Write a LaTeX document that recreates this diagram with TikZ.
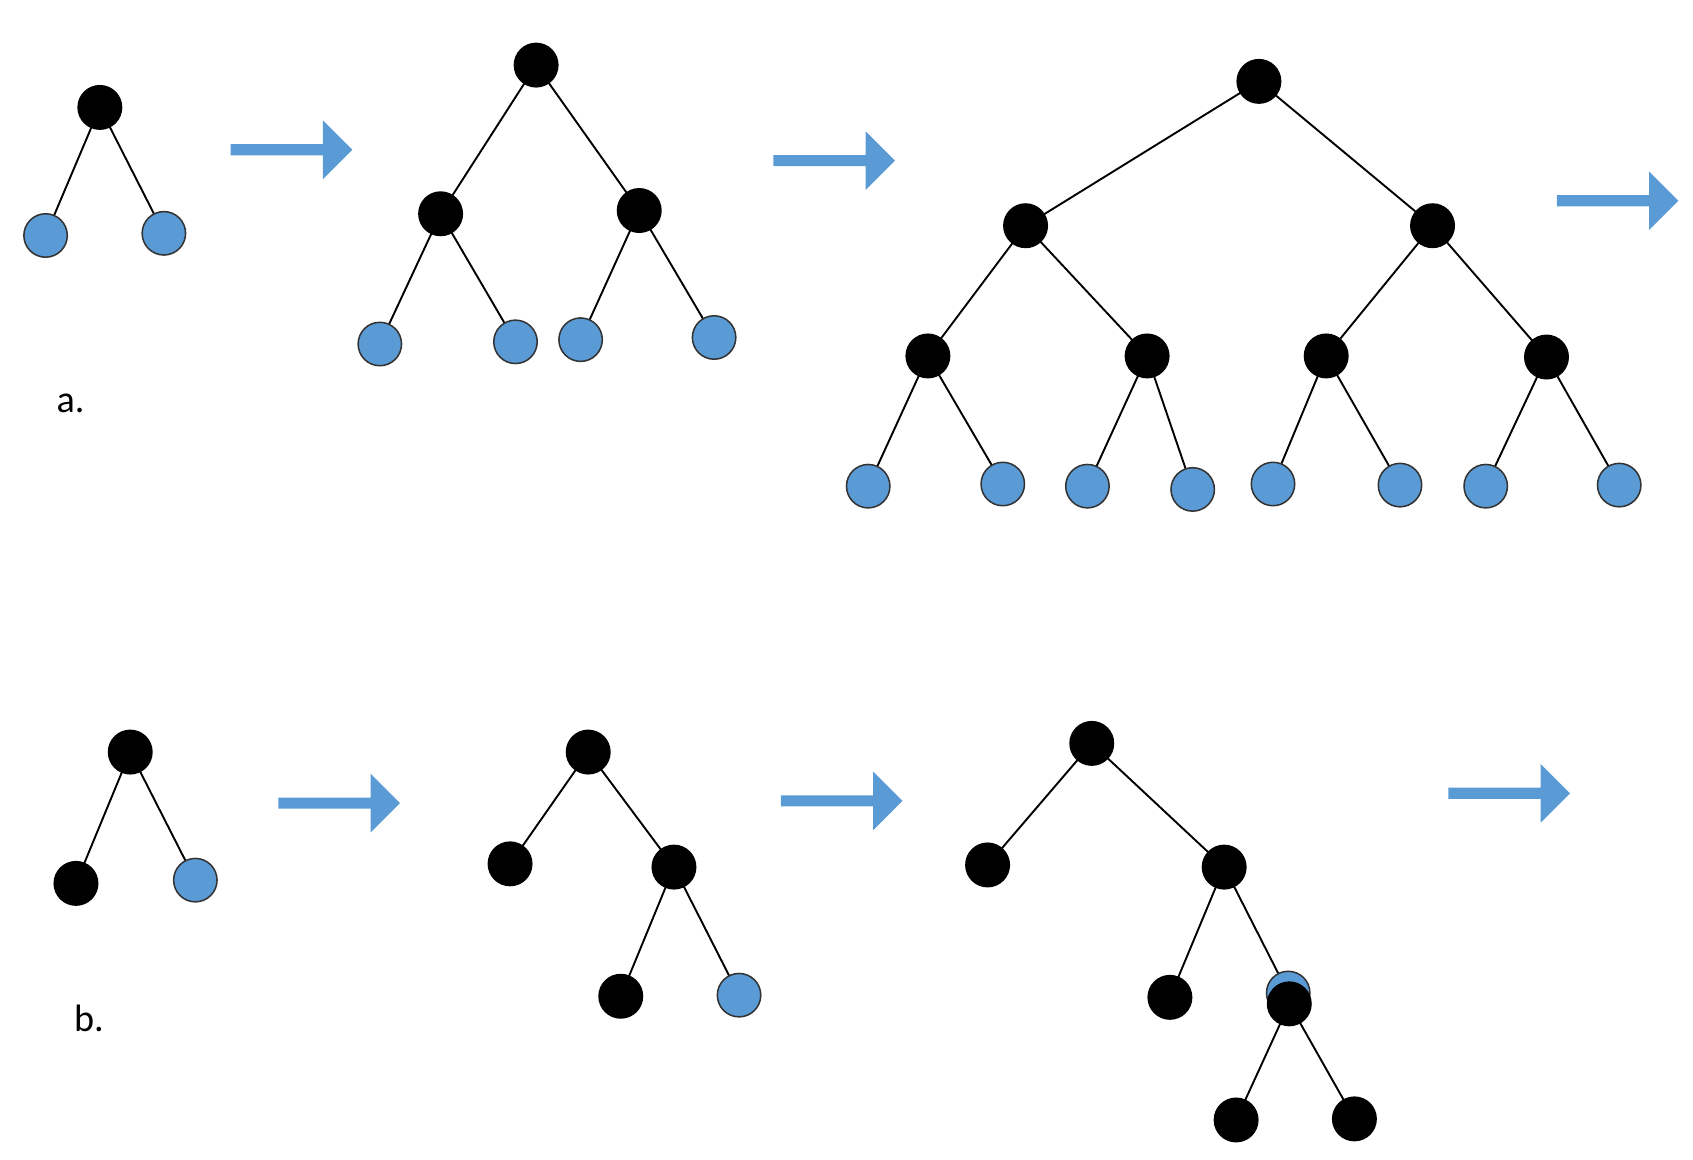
\documentclass[tikz,border=0pt]{standalone}
\usepackage{fontspec}
\setmainfont{Carlito}
\usetikzlibrary{backgrounds,shapes.arrows}
\begin{document}
\begin{tikzpicture}[x=0.01cm,y=-0.01cm,
 bk/.style={circle,fill=black,draw=black,minimum size=0.4cm,inner sep=0pt},
 bl/.style={circle,fill=blue0,draw=black!80,line width=0.4pt,minimum size=0.4cm,inner sep=0pt},
 ar/.style={single arrow,fill=blue0,draw=none,minimum height=1.12cm,minimum width=0.54cm,single arrow head extend=0.03cm,inner sep=0pt,single arrow tip angle=90},
 ed/.style={line width=0.5pt}]
\definecolor{blue0}{HTML}{5B9BD5}
\useasboundingbox (0,0) rectangle (1560,1068);
% a
\node[bk] (a1) at (92,99) {};
\node[bl] (a2) at (42,217) {};
\node[bl] (a3) at (151,215) {};
\node (la) at (65,372) {a.};
\node[ar] (ar1) at (266,138) {};
\node[bk] (b1) at (494,60) {};
\node[bk] (b2) at (406,197) {};
\node[bk] (b3) at (589,194) {};
\node[bl] (b4) at (350,317) {};
\node[bl] (b5) at (475,315) {};
\node[bl] (b6) at (535,313) {};
\node[bl] (b7) at (658,311) {};
\node[ar] (ar2) at (766,148) {};
\node[bk] (c1) at (1160,75) {};
\node[bk] (c2) at (945,208) {};
\node[bk] (c3) at (1320,208) {};
\node[bk] (c4) at (855,328) {};
\node[bk] (c5) at (1057,328) {};
\node[bk] (c6) at (1222,328) {};
\node[bk] (c7) at (1425,329) {};
\node[bl] (c8) at (800,448) {};
\node[bl] (c9) at (924,446) {};
\node[bl] (c10) at (1002,448) {};
\node[bl] (c11) at (1099,451) {};
\node[bl] (c12) at (1173,446) {};
\node[bl] (c13) at (1290,447) {};
\node[bl] (c14) at (1369,448) {};
\node[bl] (c15) at (1492,447) {};
\node[ar] (ar3) at (1488,185) {};
% b
\node[bk] (d1) at (120,693) {};
\node[bk] (d2) at (70,814) {};
\node[bl] (d3) at (180,811) {};
\node (lb) at (82,938) {b.};
\node[ar] (ar4) at (310,740) {};
\node[bk] (e1) at (542,693) {};
\node[bk] (e2) at (470,796) {};
\node[bk] (e3) at (621,799) {};
\node[bk] (e4) at (572,918) {};
\node[bl] (e5) at (681,917) {};
\node[ar] (ar5) at (773,738) {};
\node[bk] (f1) at (1006,685) {};
\node[bk] (f2) at (910,797) {};
\node[bk] (f3) at (1128,799) {};
\node[bk] (f4) at (1078,919) {};
\node[bl] (f5) at (1187,915) {};
\node[bk] (f6) at (1188,925) {};
\node[bk] (f7) at (1139,1032) {};
\node[bk] (f8) at (1248,1031) {};
\node[ar] (ar6) at (1388,731) {};
\begin{scope}[on background layer]
\draw[ed] (a1.center)--(a2.center) (a1.center)--(a3.center);
\draw[ed] (b1.center)--(b2.center) (b1.center)--(b3.center)
 (b2.center)--(b4.center) (b2.center)--(b5.center) (b3.center)--(b6.center) (b3.center)--(b7.center);
\draw[ed] (c1.center)--(c2.center) (c1.center)--(c3.center)
 (c2.center)--(c4.center) (c2.center)--(c5.center) (c3.center)--(c6.center) (c3.center)--(c7.center)
 (c4.center)--(c8.center) (c4.center)--(c9.center) (c5.center)--(c10.center) (c5.center)--(c11.center)
 (c6.center)--(c12.center) (c6.center)--(c13.center) (c7.center)--(c14.center) (c7.center)--(c15.center);
\draw[ed] (d1.center)--(d2.center) (d1.center)--(d3.center);
\draw[ed] (e1.center)--(e2.center) (e1.center)--(e3.center) (e3.center)--(e4.center) (e3.center)--(e5.center);
\draw[ed] (f1.center)--(f2.center) (f1.center)--(f3.center) (f3.center)--(f4.center) (f3.center)--(f5.center)
 (f6.center)--(f7.center) (f6.center)--(f8.center);
\end{scope}
\end{tikzpicture}
\end{document}
